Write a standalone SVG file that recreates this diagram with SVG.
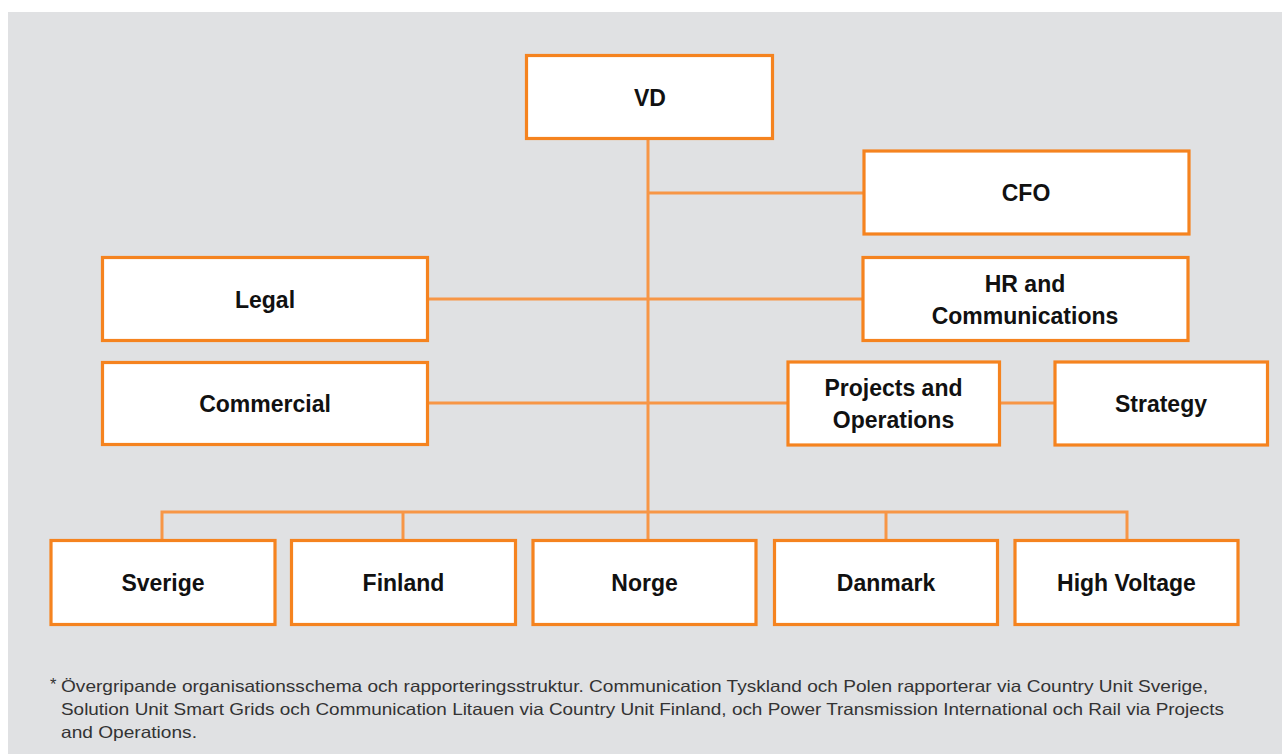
<svg xmlns="http://www.w3.org/2000/svg" width="1282" height="754" viewBox="0 0 1282 754">
  <style>
    .box { fill: #ffffff; stroke: #f5831f; stroke-width: 3.2; }
    .lbl { font-family: "Liberation Sans", Arial, sans-serif; font-weight: bold; font-size: 23px; fill: #111111; text-anchor: middle; }
    .conn { stroke: #f79646; stroke-width: 3; fill: none; }
    .note { font-family: "Liberation Sans", Arial, sans-serif; font-size: 16.5px; fill: #333333; }
  </style>
  <rect x="8" y="12" width="1274" height="742" fill="#e0e1e3"/>

  <g id="connectors">
    <line class="conn" x1="648" y1="140" x2="648" y2="539"/>
    <line class="conn" x1="648" y1="193" x2="863" y2="193"/>
    <line class="conn" x1="429" y1="299" x2="862" y2="299"/>
    <line class="conn" x1="429" y1="403" x2="787" y2="403"/>
    <line class="conn" x1="1000" y1="403" x2="1054" y2="403"/>
    <polyline class="conn" points="162,539 162,512 1127,512 1127,539"/>
    <line class="conn" x1="403" y1="512" x2="403" y2="539"/>
    <line class="conn" x1="886" y1="512" x2="886" y2="539"/>
  </g>

  <g id="vd">
    <rect class="box" x="526.5" y="55.5" width="246" height="83"/>
    <text class="lbl" x="650" y="106">VD</text>
  </g>
  <g id="cfo">
    <rect class="box" x="864" y="151" width="325" height="83"/>
    <text class="lbl" x="1026" y="201">CFO</text>
  </g>
  <g id="legal">
    <rect class="box" x="102.5" y="257.5" width="325" height="83"/>
    <text class="lbl" x="265" y="308">Legal</text>
  </g>
  <g id="hr">
    <rect class="box" x="863" y="257.5" width="325" height="83"/>
    <text class="lbl" x="1025" y="292">HR and</text>
    <text class="lbl" x="1025" y="324">Communications</text>
  </g>
  <g id="commercial">
    <rect class="box" x="102.5" y="362.5" width="325" height="82"/>
    <text class="lbl" x="265" y="412">Commercial</text>
  </g>
  <g id="projects">
    <rect class="box" x="788" y="362" width="211.5" height="83"/>
    <text class="lbl" x="893.5" y="396">Projects and</text>
    <text class="lbl" x="893.5" y="428">Operations</text>
  </g>
  <g id="strategy">
    <rect class="box" x="1055" y="362" width="212.5" height="83"/>
    <text class="lbl" x="1161" y="412">Strategy</text>
  </g>
  <g id="sverige">
    <rect class="box" x="51" y="540.5" width="224" height="84"/>
    <text class="lbl" x="163" y="591">Sverige</text>
  </g>
  <g id="finland">
    <rect class="box" x="291.5" y="540.5" width="224" height="84"/>
    <text class="lbl" x="403.5" y="591">Finland</text>
  </g>
  <g id="norge">
    <rect class="box" x="533" y="540.5" width="223" height="84"/>
    <text class="lbl" x="644.5" y="591">Norge</text>
  </g>
  <g id="danmark">
    <rect class="box" x="774.5" y="540.5" width="223" height="84"/>
    <text class="lbl" x="886" y="591">Danmark</text>
  </g>
  <g id="highvoltage">
    <rect class="box" x="1015" y="540.5" width="223" height="84"/>
    <text class="lbl" x="1126.5" y="591">High Voltage</text>
  </g>

  <g id="footnote">
    <text class="note" x="50" y="690" font-size="12">*</text>
    <text class="note" x="61" y="692" textLength="1147" lengthAdjust="spacingAndGlyphs">Övergripande organisationsschema och rapporteringsstruktur. Communication Tyskland och Polen rapporterar via Country Unit Sverige,</text>
    <text class="note" x="61" y="715" textLength="1163" lengthAdjust="spacingAndGlyphs">Solution Unit Smart Grids och Communication Litauen via Country Unit Finland, och Power Transmission International och Rail via Projects</text>
    <text class="note" x="61" y="738" textLength="136" lengthAdjust="spacingAndGlyphs">and Operations.</text>
  </g>
</svg>
